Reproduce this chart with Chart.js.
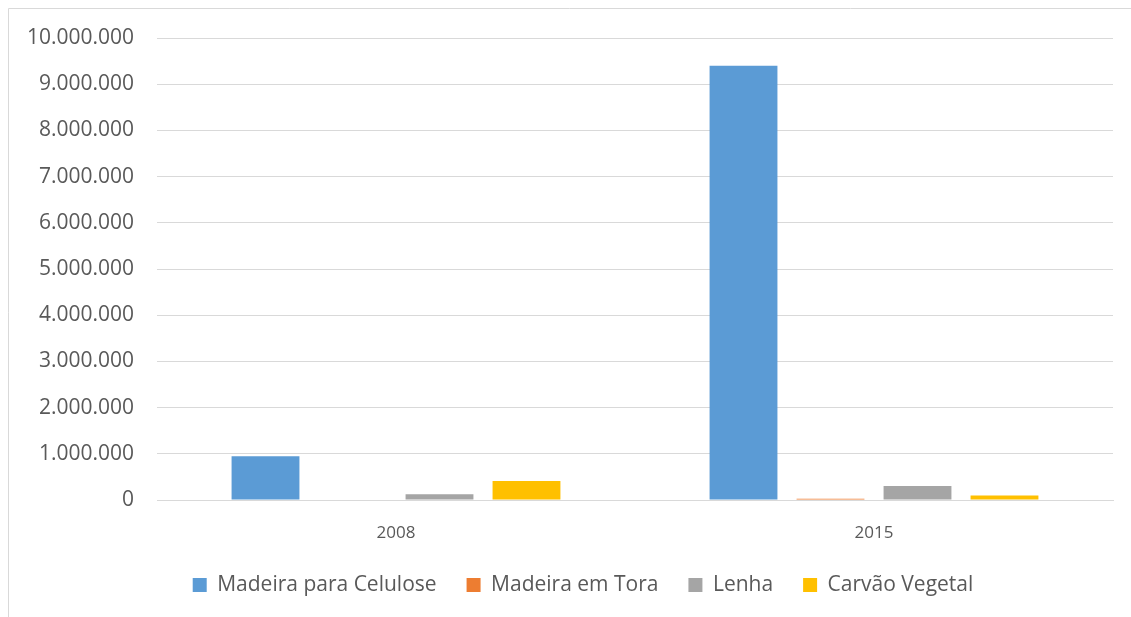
<!DOCTYPE html>
<html>
<head>
<meta charset="utf-8">
<script src="https://cdn.jsdelivr.net/npm/chart.js@4/dist/chart.umd.min.js"></script>
<style>
html,body{margin:0;padding:0;background:#fff;}
#wrap{position:relative;width:1131px;height:617px;}
</style>
</head>
<body>
<div id="wrap"><canvas id="c" width="1131" height="617"></canvas></div>
<script>
const categories = ["2008", "2015"];
const seriesNames = ["Madeira para Celulose", "Madeira em Tora", "Lenha", "Carvão Vegetal"];
const celulose = [945000, 9400000];
const tora = [0, 25000];
const lenha = [125000, 305000];
const carvao = [410000, 95000];
const colors = ["#5b9bd5", "#ed7d31", "#a5a5a5", "#ffc000"];
const yTicks = [0, 1000000, 2000000, 3000000, 4000000, 5000000, 6000000, 7000000, 8000000, 9000000, 10000000];

const fmt = v => String(v).replace(/\B(?=(\d{3})+(?!\d))/g, ".");

const borderPlugin = {
  id: 'outerBorder',
  afterLayout(chart) {
    // shift the legend box so its centred row lines up with the reference
    if (chart.legend) {
      chart.legend.left = 53;
      chart.legend.top += 2;
    }
  },
  beforeDraw(chart) {
    const ctx = chart.ctx;
    ctx.save();
    ctx.strokeStyle = '#d9d9d9';
    ctx.lineWidth = 1;
    ctx.beginPath();
    ctx.moveTo(8.5, 617);
    ctx.lineTo(8.5, 8.5);
    ctx.lineTo(1131, 8.5);
    ctx.stroke();
    ctx.restore();
  }
};

const FONT = "'Open Sans', 'DejaVu Sans', sans-serif";
const values = [celulose, tora, lenha, carvao];

new Chart(document.getElementById('c'), {
  type: 'bar',
  data: {
    labels: categories,
    datasets: seriesNames.map((n, i) => ({
      label: n,
      data: values[i],
      backgroundColor: colors[i],
      borderWidth: 0,
      barPercentage: 0.78,
      categoryPercentage: 0.728
    }))
  },
  options: {
    responsive: false,
    animation: false,
    layout: { padding: { left: 10, right: 18, top: 38, bottom: 13.5 } },
    plugins: {
      legend: {
        position: 'bottom',
        labels: {
          font: { family: FONT, size: 21 },
          color: '#595959',
          boxWidth: 14,
          boxHeight: 14,
          padding: 30
        }
      },
      tooltip: { enabled: false }
    },
    scales: {
      x: {
        afterFit: s => { s.height = 42.5; },
        grid: { display: false, drawTicks: false },
        border: { display: true, color: '#d9d9d9', width: 1 },
        ticks: { font: { family: FONT, size: 17 }, color: '#595959', padding: 23 }
      },
      y: {
        min: 0, max: 10000000,
        afterBuildTicks: s => { s.ticks = yTicks.map(v => ({ value: v })); },
        afterFit: s => { s.width = 147; },
        grid: { color: '#d9d9d9', lineWidth: 1, drawTicks: false },
        border: { display: false },
        ticks: { font: { family: FONT, size: 21 }, color: '#595959', padding: 23, callback: v => fmt(v) }
      }
    }
  },
  plugins: [borderPlugin]
});
</script>
</body>
</html>
